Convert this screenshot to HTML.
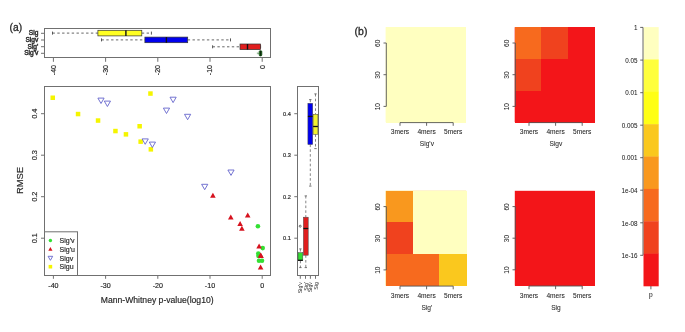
<!DOCTYPE html>
<html><head><meta charset="utf-8"><style>
html,body{margin:0;padding:0;background:#fff;}
body{width:685px;height:332px;overflow:hidden;}
svg{display:block;font-family:"Liberation Sans", sans-serif;will-change:transform;filter:blur(0.35px);}
text{stroke:#333;stroke-width:0.18px;}
text.b{stroke:#444;stroke-width:0.06px;}
</style></head><body>
<svg width="685" height="332" viewBox="0 0 685 332">
<rect width="685" height="332" fill="#fff"/>
<text transform="translate(9.6,30.5) scale(0.89,1)" font-size="11.5" fill="#222" style="stroke-width:0.35px">(a)</text>
<rect x="44.5" y="28.5" width="226.0" height="29.0" fill="none" stroke="#707070" stroke-width="1"/>
<line x1="41" y1="33.3" x2="44.5" y2="33.3" stroke="#707070" stroke-width="1"/>
<text style="stroke-width:0.45px" x="38.3" y="35.199999999999996" font-size="6.6" fill="#222" text-anchor="end">Sig</text>
<line x1="41" y1="40.0" x2="44.5" y2="40.0" stroke="#707070" stroke-width="1"/>
<text style="stroke-width:0.45px" x="38.3" y="41.9" font-size="6.6" fill="#222" text-anchor="end">Sigv</text>
<line x1="41" y1="46.7" x2="44.5" y2="46.7" stroke="#707070" stroke-width="1"/>
<text style="stroke-width:0.45px" x="38.3" y="48.6" font-size="6.6" fill="#222" text-anchor="end">Sig'</text>
<line x1="41" y1="53.3" x2="44.5" y2="53.3" stroke="#707070" stroke-width="1"/>
<text style="stroke-width:0.45px" x="38.3" y="55.199999999999996" font-size="6.6" fill="#222" text-anchor="end">Sig'v</text>
<line x1="53.4" y1="57.5" x2="53.4" y2="61.8" stroke="#707070" stroke-width="1"/>
<text transform="translate(55.8,65) rotate(-90)" font-size="7" fill="#222" text-anchor="end">-40</text>
<line x1="105.6" y1="57.5" x2="105.6" y2="61.8" stroke="#707070" stroke-width="1"/>
<text transform="translate(108.0,65) rotate(-90)" font-size="7" fill="#222" text-anchor="end">-30</text>
<line x1="157.8" y1="57.5" x2="157.8" y2="61.8" stroke="#707070" stroke-width="1"/>
<text transform="translate(160.2,65) rotate(-90)" font-size="7" fill="#222" text-anchor="end">-20</text>
<line x1="210.0" y1="57.5" x2="210.0" y2="61.8" stroke="#707070" stroke-width="1"/>
<text transform="translate(212.4,65) rotate(-90)" font-size="7" fill="#222" text-anchor="end">-10</text>
<line x1="262.2" y1="57.5" x2="262.2" y2="61.8" stroke="#707070" stroke-width="1"/>
<text transform="translate(264.6,65) rotate(-90)" font-size="7" fill="#222" text-anchor="end">0</text>
<line x1="52.5" y1="33.1" x2="97.9" y2="33.1" stroke="#666" stroke-width="1" stroke-dasharray="2.4,2.4"/>
<line x1="141.8" y1="33.1" x2="151.4" y2="33.1" stroke="#666" stroke-width="1" stroke-dasharray="2.4,2.4"/>
<line x1="52.5" y1="31.6" x2="52.5" y2="34.6" stroke="#555" stroke-width="1"/>
<line x1="151.4" y1="31.6" x2="151.4" y2="34.6" stroke="#555" stroke-width="1"/>
<rect x="97.9" y="30.3" width="43.900000000000006" height="5.6" fill="#FFFF22" stroke="#333" stroke-width="0.7"/>
<line x1="125.9" y1="30.3" x2="125.9" y2="35.9" stroke="#111" stroke-width="1.4"/>
<line x1="101.5" y1="39.9" x2="144.9" y2="39.9" stroke="#666" stroke-width="1" stroke-dasharray="2.4,2.4"/>
<line x1="187.7" y1="39.9" x2="230.5" y2="39.9" stroke="#666" stroke-width="1" stroke-dasharray="2.4,2.4"/>
<line x1="101.5" y1="38.4" x2="101.5" y2="41.4" stroke="#555" stroke-width="1"/>
<line x1="230.5" y1="38.4" x2="230.5" y2="41.4" stroke="#555" stroke-width="1"/>
<rect x="144.9" y="37.1" width="42.79999999999998" height="5.6" fill="#0000EE" stroke="#333" stroke-width="0.7"/>
<line x1="166.4" y1="37.1" x2="166.4" y2="42.699999999999996" stroke="#111" stroke-width="1.4"/>
<line x1="212.6" y1="46.8" x2="240.0" y2="46.8" stroke="#666" stroke-width="1" stroke-dasharray="2.4,2.4"/>
<line x1="260.6" y1="46.8" x2="260.6" y2="46.8" stroke="#666" stroke-width="1" stroke-dasharray="2.4,2.4"/>
<line x1="212.6" y1="45.3" x2="212.6" y2="48.3" stroke="#555" stroke-width="1"/>
<line x1="260.6" y1="45.3" x2="260.6" y2="48.3" stroke="#555" stroke-width="1"/>
<rect x="240.0" y="44.0" width="20.600000000000023" height="5.6" fill="#E01E1E" stroke="#333" stroke-width="0.7"/>
<line x1="247.5" y1="44.0" x2="247.5" y2="49.599999999999994" stroke="#111" stroke-width="1.4"/>
<line x1="257.2" y1="53.3" x2="259.4" y2="53.3" stroke="#6a9a6a" stroke-width="0.8"/>
<line x1="257.3" y1="52.3" x2="257.3" y2="54.3" stroke="#8aba8a" stroke-width="0.6"/>
<rect x="259.2" y="50.7" width="2.6" height="5.2" rx="1" fill="#2a9a2a" stroke="#0b3a0b" stroke-width="0.8"/>
<line x1="260.7" y1="50.9" x2="260.7" y2="55.7" stroke="#061806" stroke-width="1.1"/>
<rect x="44.5" y="86.5" width="226.0" height="189.0" fill="none" stroke="#707070" stroke-width="1"/>
<line x1="53.4" y1="275.5" x2="53.4" y2="278.8" stroke="#707070" stroke-width="1"/>
<text x="53.4" y="288.2" font-size="7.1" fill="#222" text-anchor="middle">-40</text>
<line x1="105.6" y1="275.5" x2="105.6" y2="278.8" stroke="#707070" stroke-width="1"/>
<text x="105.6" y="288.2" font-size="7.1" fill="#222" text-anchor="middle">-30</text>
<line x1="157.8" y1="275.5" x2="157.8" y2="278.8" stroke="#707070" stroke-width="1"/>
<text x="157.8" y="288.2" font-size="7.1" fill="#222" text-anchor="middle">-20</text>
<line x1="210.0" y1="275.5" x2="210.0" y2="278.8" stroke="#707070" stroke-width="1"/>
<text x="210.0" y="288.2" font-size="7.1" fill="#222" text-anchor="middle">-10</text>
<line x1="262.2" y1="275.5" x2="262.2" y2="278.8" stroke="#707070" stroke-width="1"/>
<text x="262.2" y="288.2" font-size="7.1" fill="#222" text-anchor="middle">0</text>
<line x1="41" y1="238.2" x2="44.5" y2="238.2" stroke="#707070" stroke-width="1"/>
<text transform="translate(36.6,238.2) rotate(-90)" font-size="7.4" fill="#222" text-anchor="middle">0.1</text>
<line x1="41" y1="196.7" x2="44.5" y2="196.7" stroke="#707070" stroke-width="1"/>
<text transform="translate(36.6,196.7) rotate(-90)" font-size="7.4" fill="#222" text-anchor="middle">0.2</text>
<line x1="41" y1="155.2" x2="44.5" y2="155.2" stroke="#707070" stroke-width="1"/>
<text transform="translate(36.6,155.2) rotate(-90)" font-size="7.4" fill="#222" text-anchor="middle">0.3</text>
<line x1="41" y1="113.7" x2="44.5" y2="113.7" stroke="#707070" stroke-width="1"/>
<text transform="translate(36.6,113.7) rotate(-90)" font-size="7.4" fill="#222" text-anchor="middle">0.4</text>
<text x="157.2" y="302.6" font-size="8.6" fill="#222" text-anchor="middle">Mann-Whitney p-value(log10)</text>
<text transform="translate(23,180.5) rotate(-90)" font-size="9.4" fill="#222" text-anchor="middle">RMSE</text>
<rect x="50.5" y="95.5" width="4.5" height="4.5" fill="#F5F500"/>
<rect x="75.8" y="111.8" width="4.5" height="4.5" fill="#F5F500"/>
<rect x="95.8" y="118.3" width="4.5" height="4.5" fill="#F5F500"/>
<rect x="113.2" y="128.8" width="4.5" height="4.5" fill="#F5F500"/>
<rect x="123.7" y="132.1" width="4.5" height="4.5" fill="#F5F500"/>
<rect x="137.4" y="124.0" width="4.5" height="4.5" fill="#F5F500"/>
<rect x="138.4" y="139.4" width="4.5" height="4.5" fill="#F5F500"/>
<rect x="148.6" y="147.1" width="4.5" height="4.5" fill="#F5F500"/>
<rect x="148.2" y="91.3" width="4.5" height="4.5" fill="#F5F500"/>
<path d="M97.90,98.10 L104.10,98.10 L101.00,103.50 Z" fill="none" stroke="#6464CC" stroke-width="0.9"/>
<path d="M104.30,101.10 L110.50,101.10 L107.40,106.50 Z" fill="none" stroke="#6464CC" stroke-width="0.9"/>
<path d="M142.10,138.90 L148.30,138.90 L145.20,144.30 Z" fill="none" stroke="#6464CC" stroke-width="0.9"/>
<path d="M149.30,142.10 L155.50,142.10 L152.40,147.50 Z" fill="none" stroke="#6464CC" stroke-width="0.9"/>
<path d="M170.00,97.20 L176.20,97.20 L173.10,102.60 Z" fill="none" stroke="#6464CC" stroke-width="0.9"/>
<path d="M163.40,108.10 L169.60,108.10 L166.50,113.50 Z" fill="none" stroke="#6464CC" stroke-width="0.9"/>
<path d="M184.50,114.30 L190.70,114.30 L187.60,119.70 Z" fill="none" stroke="#6464CC" stroke-width="0.9"/>
<path d="M227.90,170.00 L234.10,170.00 L231.00,175.40 Z" fill="none" stroke="#6464CC" stroke-width="0.9"/>
<path d="M201.60,184.30 L207.80,184.30 L204.70,189.70 Z" fill="none" stroke="#6464CC" stroke-width="0.9"/>
<circle cx="257.90" cy="226.30" r="2.3" fill="#33E033"/>
<circle cx="262.70" cy="248.10" r="2.3" fill="#33E033"/>
<circle cx="258.30" cy="253.60" r="2.3" fill="#33E033"/>
<circle cx="258.50" cy="256.00" r="2.3" fill="#33E033"/>
<circle cx="259.00" cy="260.80" r="2.3" fill="#33E033"/>
<circle cx="262.00" cy="260.80" r="2.3" fill="#33E033"/>
<path d="M212.90,192.70 L215.70,197.70 L210.10,197.70 Z" fill="#D6121E"/>
<path d="M230.80,214.50 L233.60,219.50 L228.00,219.50 Z" fill="#D6121E"/>
<path d="M247.70,212.40 L250.50,217.40 L244.90,217.40 Z" fill="#D6121E"/>
<path d="M240.10,220.90 L242.90,225.90 L237.30,225.90 Z" fill="#D6121E"/>
<path d="M241.90,225.70 L244.70,230.70 L239.10,230.70 Z" fill="#D6121E"/>
<path d="M259.10,243.60 L261.90,248.60 L256.30,248.60 Z" fill="#D6121E"/>
<path d="M260.60,252.50 L263.40,257.50 L257.80,257.50 Z" fill="#D6121E"/>
<path d="M261.00,253.00 L263.80,258.00 L258.20,258.00 Z" fill="#D6121E"/>
<path d="M260.60,264.40 L263.40,269.40 L257.80,269.40 Z" fill="#D6121E"/>
<rect x="44.5" y="231.8" width="33" height="43.69999999999999" fill="#fff" stroke="#707070" stroke-width="1"/>
<circle cx="50.40" cy="240.50" r="1.7" fill="#33E033"/>
<path d="M50.40,246.90 L52.50,250.70 L48.30,250.70 Z" fill="#D6121E"/>
<path d="M48.10,256.30 L52.70,256.30 L50.40,260.30 Z" fill="none" stroke="#6464CC" stroke-width="0.9"/>
<rect x="48.6" y="264.9" width="3.6" height="3.6" fill="#F5F500"/>
<text x="59.6" y="243.0" font-size="7.0" fill="#222">Sig'v</text>
<text x="59.6" y="251.6" font-size="7.0" fill="#222">Sig'u</text>
<text x="59.6" y="260.5" font-size="7.0" fill="#222">Sigv</text>
<text x="59.6" y="269.2" font-size="7.0" fill="#222">Sigu</text>
<rect x="297.5" y="86.5" width="21.0" height="189.0" fill="none" stroke="#707070" stroke-width="1"/>
<line x1="294.3" y1="238.2" x2="297.5" y2="238.2" stroke="#707070" stroke-width="1"/>
<text x="290.8" y="240.1" font-size="5.6" fill="#222" text-anchor="end">0.1</text>
<line x1="294.3" y1="196.7" x2="297.5" y2="196.7" stroke="#707070" stroke-width="1"/>
<text x="290.8" y="198.6" font-size="5.6" fill="#222" text-anchor="end">0.2</text>
<line x1="294.3" y1="155.2" x2="297.5" y2="155.2" stroke="#707070" stroke-width="1"/>
<text x="290.8" y="157.1" font-size="5.6" fill="#222" text-anchor="end">0.3</text>
<line x1="294.3" y1="113.7" x2="297.5" y2="113.7" stroke="#707070" stroke-width="1"/>
<text x="290.8" y="115.6" font-size="5.6" fill="#222" text-anchor="end">0.4</text>
<line x1="300.3" y1="275.5" x2="300.3" y2="278.8" stroke="#707070" stroke-width="1"/>
<line x1="305.5" y1="275.5" x2="305.5" y2="278.8" stroke="#707070" stroke-width="1"/>
<line x1="310.4" y1="275.5" x2="310.4" y2="278.8" stroke="#707070" stroke-width="1"/>
<line x1="315.5" y1="275.5" x2="315.5" y2="278.8" stroke="#707070" stroke-width="1"/>
<text style="stroke:none" transform="translate(302.3,282.0) rotate(-90)" font-size="5.3" fill="#222" text-anchor="end">Sig'v</text>
<text style="stroke:none" transform="translate(307.5,282.0) rotate(-90)" font-size="5.3" fill="#222" text-anchor="end">Sig'</text>
<text style="stroke:none" transform="translate(312.4,282.0) rotate(-90)" font-size="5.3" fill="#222" text-anchor="end">Sigv</text>
<text style="stroke:none" transform="translate(317.5,282.0) rotate(-90)" font-size="5.3" fill="#222" text-anchor="end">Sig</text>
<line x1="310.3" y1="99.6" x2="310.3" y2="103.3" stroke="#666" stroke-width="0.8" stroke-dasharray="2.6,2.2"/>
<line x1="310.3" y1="144.5" x2="310.3" y2="186.1" stroke="#666" stroke-width="0.8" stroke-dasharray="2.6,2.2"/>
<line x1="309.1" y1="99.6" x2="311.5" y2="99.6" stroke="#555" stroke-width="0.8"/>
<line x1="309.1" y1="186.1" x2="311.5" y2="186.1" stroke="#555" stroke-width="0.8"/>
<rect x="307.90000000000003" y="103.3" width="4.8" height="41.2" fill="#0000EE" stroke="#444" stroke-width="0.5"/>
<line x1="307.90000000000003" y1="116.4" x2="312.7" y2="116.4" stroke="#111" stroke-width="1.3"/>
<line x1="315.5" y1="93.9" x2="315.5" y2="114.3" stroke="#666" stroke-width="0.8" stroke-dasharray="2.6,2.2"/>
<line x1="315.5" y1="134.3" x2="315.5" y2="148.6" stroke="#666" stroke-width="0.8" stroke-dasharray="2.6,2.2"/>
<line x1="314.3" y1="93.9" x2="316.7" y2="93.9" stroke="#555" stroke-width="0.8"/>
<line x1="314.3" y1="148.6" x2="316.7" y2="148.6" stroke="#555" stroke-width="0.8"/>
<rect x="313.1" y="114.3" width="4.8" height="20.000000000000014" fill="#F2F230" stroke="#444" stroke-width="0.5"/>
<line x1="313.1" y1="126.5" x2="317.9" y2="126.5" stroke="#111" stroke-width="1.3"/>
<line x1="305.8" y1="195.9" x2="305.8" y2="217.2" stroke="#666" stroke-width="0.8" stroke-dasharray="2.6,2.2"/>
<line x1="305.8" y1="255.2" x2="305.8" y2="267.6" stroke="#666" stroke-width="0.8" stroke-dasharray="2.6,2.2"/>
<line x1="304.6" y1="195.9" x2="307.0" y2="195.9" stroke="#555" stroke-width="0.8"/>
<line x1="304.6" y1="267.6" x2="307.0" y2="267.6" stroke="#555" stroke-width="0.8"/>
<rect x="303.40000000000003" y="217.2" width="4.8" height="38.0" fill="#E01E1E" stroke="#444" stroke-width="0.5"/>
<line x1="303.40000000000003" y1="228.5" x2="308.2" y2="228.5" stroke="#111" stroke-width="1.3"/>
<line x1="300.4" y1="248.9" x2="300.4" y2="252.7" stroke="#666" stroke-width="0.8" stroke-dasharray="2.6,2.2"/>
<line x1="300.4" y1="260.7" x2="300.4" y2="267.6" stroke="#666" stroke-width="0.8" stroke-dasharray="2.6,2.2"/>
<line x1="299.2" y1="248.9" x2="301.59999999999997" y2="248.9" stroke="#555" stroke-width="0.8"/>
<line x1="299.2" y1="267.6" x2="301.59999999999997" y2="267.6" stroke="#555" stroke-width="0.8"/>
<rect x="298.0" y="252.7" width="4.8" height="8.0" fill="#33DD33" stroke="#444" stroke-width="0.5"/>
<line x1="298.0" y1="260.3" x2="302.79999999999995" y2="260.3" stroke="#111" stroke-width="1.3"/>
<circle cx="300.2" cy="226.2" r="1.0" fill="none" stroke="#333" stroke-width="0.7"/>
<text transform="translate(354.6,34.8) scale(0.91,1)" font-size="11.5" fill="#222" style="stroke-width:0.35px">(b)</text>
<rect x="385.60" y="27.20" width="80.40" height="95.00" fill="#FFFFC0"/>
<rect x="385.60" y="27.20" width="27.10" height="31.97" fill="#FFFFC0" shape-rendering="crispEdges"/>
<rect x="412.40" y="27.20" width="27.10" height="31.97" fill="#FFFFC0" shape-rendering="crispEdges"/>
<rect x="439.20" y="27.20" width="27.10" height="31.97" fill="#FFFFC0" shape-rendering="crispEdges"/>
<rect x="385.60" y="58.87" width="27.10" height="31.97" fill="#FFFFC0" shape-rendering="crispEdges"/>
<rect x="412.40" y="58.87" width="27.10" height="31.97" fill="#FFFFC0" shape-rendering="crispEdges"/>
<rect x="439.20" y="58.87" width="27.10" height="31.97" fill="#FFFFC0" shape-rendering="crispEdges"/>
<rect x="385.60" y="90.53" width="27.10" height="31.97" fill="#FFFFC0" shape-rendering="crispEdges"/>
<rect x="412.40" y="90.53" width="27.10" height="31.97" fill="#FFFFC0" shape-rendering="crispEdges"/>
<rect x="439.20" y="90.53" width="27.10" height="31.97" fill="#FFFFC0" shape-rendering="crispEdges"/>
<line x1="386.3" y1="43.0" x2="386.3" y2="106.4" stroke="#555" stroke-width="0.9"/>
<line x1="383.5" y1="43.0" x2="386.3" y2="43.0" stroke="#555" stroke-width="0.9"/>
<text class="b" transform="translate(379.8,43.3) rotate(-90)" font-size="6.6" fill="#222" text-anchor="middle">60</text>
<line x1="383.5" y1="74.7" x2="386.3" y2="74.7" stroke="#555" stroke-width="0.9"/>
<text class="b" transform="translate(379.8,75.0) rotate(-90)" font-size="6.6" fill="#222" text-anchor="middle">30</text>
<line x1="383.5" y1="106.4" x2="386.3" y2="106.4" stroke="#555" stroke-width="0.9"/>
<text class="b" transform="translate(379.8,106.7) rotate(-90)" font-size="6.6" fill="#222" text-anchor="middle">10</text>
<line x1="400.0" y1="122.6" x2="453.2" y2="122.6" stroke="#555" stroke-width="0.9"/>
<line x1="400.0" y1="122.6" x2="400.0" y2="125.8" stroke="#555" stroke-width="0.9"/>
<text class="b" x="400.0" y="133.8" font-size="6.6" fill="#222" text-anchor="middle">3mers</text>
<line x1="426.6" y1="122.6" x2="426.6" y2="125.8" stroke="#555" stroke-width="0.9"/>
<text class="b" x="426.6" y="133.8" font-size="6.6" fill="#222" text-anchor="middle">4mers</text>
<line x1="453.2" y1="122.6" x2="453.2" y2="125.8" stroke="#555" stroke-width="0.9"/>
<text class="b" x="453.2" y="133.8" font-size="6.6" fill="#222" text-anchor="middle">5mers</text>
<text class="b" x="426.9" y="146.4" font-size="6.6" fill="#222" text-anchor="middle">Sig'v</text>
<rect x="514.70" y="27.20" width="79.90" height="95.00" fill="#F31519"/>
<rect x="514.70" y="27.20" width="26.93" height="31.97" fill="#F76A1E" shape-rendering="crispEdges"/>
<rect x="541.33" y="27.20" width="26.93" height="31.97" fill="#F0421E" shape-rendering="crispEdges"/>
<rect x="567.97" y="27.20" width="26.93" height="31.97" fill="#F31519" shape-rendering="crispEdges"/>
<rect x="514.70" y="58.87" width="26.93" height="31.97" fill="#F0421E" shape-rendering="crispEdges"/>
<rect x="541.33" y="58.87" width="26.93" height="31.97" fill="#F31519" shape-rendering="crispEdges"/>
<rect x="567.97" y="58.87" width="26.93" height="31.97" fill="#F31519" shape-rendering="crispEdges"/>
<rect x="514.70" y="90.53" width="26.93" height="31.97" fill="#F31519" shape-rendering="crispEdges"/>
<rect x="541.33" y="90.53" width="26.93" height="31.97" fill="#F31519" shape-rendering="crispEdges"/>
<rect x="567.97" y="90.53" width="26.93" height="31.97" fill="#F31519" shape-rendering="crispEdges"/>
<line x1="515.3" y1="43.0" x2="515.3" y2="106.4" stroke="#555" stroke-width="0.9"/>
<line x1="512.5" y1="43.0" x2="515.3" y2="43.0" stroke="#555" stroke-width="0.9"/>
<text class="b" transform="translate(508.8,43.3) rotate(-90)" font-size="6.6" fill="#222" text-anchor="middle">60</text>
<line x1="512.5" y1="74.7" x2="515.3" y2="74.7" stroke="#555" stroke-width="0.9"/>
<text class="b" transform="translate(508.8,75.0) rotate(-90)" font-size="6.6" fill="#222" text-anchor="middle">30</text>
<line x1="512.5" y1="106.4" x2="515.3" y2="106.4" stroke="#555" stroke-width="0.9"/>
<text class="b" transform="translate(508.8,106.7) rotate(-90)" font-size="6.6" fill="#222" text-anchor="middle">10</text>
<line x1="529.0" y1="122.6" x2="582.2" y2="122.6" stroke="#555" stroke-width="0.9"/>
<line x1="529.0" y1="122.6" x2="529.0" y2="125.8" stroke="#555" stroke-width="0.9"/>
<text class="b" x="529.0" y="133.8" font-size="6.6" fill="#222" text-anchor="middle">3mers</text>
<line x1="555.6" y1="122.6" x2="555.6" y2="125.8" stroke="#555" stroke-width="0.9"/>
<text class="b" x="555.6" y="133.8" font-size="6.6" fill="#222" text-anchor="middle">4mers</text>
<line x1="582.2" y1="122.6" x2="582.2" y2="125.8" stroke="#555" stroke-width="0.9"/>
<text class="b" x="582.2" y="133.8" font-size="6.6" fill="#222" text-anchor="middle">5mers</text>
<text class="b" x="555.9" y="146.4" font-size="6.6" fill="#222" text-anchor="middle">Sigv</text>
<rect x="385.70" y="190.80" width="80.50" height="94.90" fill="#FAC81E"/>
<rect x="385.70" y="190.80" width="27.13" height="31.93" fill="#F9981E" shape-rendering="crispEdges"/>
<rect x="412.53" y="190.80" width="27.13" height="31.93" fill="#FFFFC0" shape-rendering="crispEdges"/>
<rect x="439.37" y="190.80" width="27.13" height="31.93" fill="#FFFFC0" shape-rendering="crispEdges"/>
<rect x="385.70" y="222.43" width="27.13" height="31.93" fill="#F0421E" shape-rendering="crispEdges"/>
<rect x="412.53" y="222.43" width="27.13" height="31.93" fill="#FFFFC0" shape-rendering="crispEdges"/>
<rect x="439.37" y="222.43" width="27.13" height="31.93" fill="#FFFFC0" shape-rendering="crispEdges"/>
<rect x="385.70" y="254.07" width="27.13" height="31.93" fill="#F76A1E" shape-rendering="crispEdges"/>
<rect x="412.53" y="254.07" width="27.13" height="31.93" fill="#F76A1E" shape-rendering="crispEdges"/>
<rect x="439.37" y="254.07" width="27.13" height="31.93" fill="#FAC81E" shape-rendering="crispEdges"/>
<line x1="386.3" y1="206.6" x2="386.3" y2="269.9" stroke="#555" stroke-width="0.9"/>
<line x1="383.5" y1="206.6" x2="386.3" y2="206.6" stroke="#555" stroke-width="0.9"/>
<text class="b" transform="translate(379.8,206.9) rotate(-90)" font-size="6.6" fill="#222" text-anchor="middle">60</text>
<line x1="383.5" y1="238.2" x2="386.3" y2="238.2" stroke="#555" stroke-width="0.9"/>
<text class="b" transform="translate(379.8,238.6) rotate(-90)" font-size="6.6" fill="#222" text-anchor="middle">30</text>
<line x1="383.5" y1="269.9" x2="386.3" y2="269.9" stroke="#555" stroke-width="0.9"/>
<text class="b" transform="translate(379.8,270.2) rotate(-90)" font-size="6.6" fill="#222" text-anchor="middle">10</text>
<line x1="400.0" y1="286.1" x2="453.2" y2="286.1" stroke="#555" stroke-width="0.9"/>
<line x1="400.0" y1="286.1" x2="400.0" y2="289.3" stroke="#555" stroke-width="0.9"/>
<text class="b" x="400.0" y="298.0" font-size="6.6" fill="#222" text-anchor="middle">3mers</text>
<line x1="426.6" y1="286.1" x2="426.6" y2="289.3" stroke="#555" stroke-width="0.9"/>
<text class="b" x="426.6" y="298.0" font-size="6.6" fill="#222" text-anchor="middle">4mers</text>
<line x1="453.2" y1="286.1" x2="453.2" y2="289.3" stroke="#555" stroke-width="0.9"/>
<text class="b" x="453.2" y="298.0" font-size="6.6" fill="#222" text-anchor="middle">5mers</text>
<text class="b" x="426.9" y="309.9" font-size="6.6" fill="#222" text-anchor="middle">Sig'</text>
<rect x="514.80" y="190.80" width="79.90" height="94.80" fill="#F31519"/>
<rect x="514.80" y="190.80" width="26.93" height="31.90" fill="#F31519" shape-rendering="crispEdges"/>
<rect x="541.43" y="190.80" width="26.93" height="31.90" fill="#F31519" shape-rendering="crispEdges"/>
<rect x="568.07" y="190.80" width="26.93" height="31.90" fill="#F31519" shape-rendering="crispEdges"/>
<rect x="514.80" y="222.40" width="26.93" height="31.90" fill="#F31519" shape-rendering="crispEdges"/>
<rect x="541.43" y="222.40" width="26.93" height="31.90" fill="#F31519" shape-rendering="crispEdges"/>
<rect x="568.07" y="222.40" width="26.93" height="31.90" fill="#F31519" shape-rendering="crispEdges"/>
<rect x="514.80" y="254.00" width="26.93" height="31.90" fill="#F31519" shape-rendering="crispEdges"/>
<rect x="541.43" y="254.00" width="26.93" height="31.90" fill="#F31519" shape-rendering="crispEdges"/>
<rect x="568.07" y="254.00" width="26.93" height="31.90" fill="#F31519" shape-rendering="crispEdges"/>
<line x1="515.3" y1="206.6" x2="515.3" y2="269.8" stroke="#555" stroke-width="0.9"/>
<line x1="512.5" y1="206.6" x2="515.3" y2="206.6" stroke="#555" stroke-width="0.9"/>
<text class="b" transform="translate(508.8,206.9) rotate(-90)" font-size="6.6" fill="#222" text-anchor="middle">60</text>
<line x1="512.5" y1="238.2" x2="515.3" y2="238.2" stroke="#555" stroke-width="0.9"/>
<text class="b" transform="translate(508.8,238.5) rotate(-90)" font-size="6.6" fill="#222" text-anchor="middle">30</text>
<line x1="512.5" y1="269.8" x2="515.3" y2="269.8" stroke="#555" stroke-width="0.9"/>
<text class="b" transform="translate(508.8,270.1) rotate(-90)" font-size="6.6" fill="#222" text-anchor="middle">10</text>
<line x1="529.0" y1="286.0" x2="582.2" y2="286.0" stroke="#555" stroke-width="0.9"/>
<line x1="529.0" y1="286.0" x2="529.0" y2="289.2" stroke="#555" stroke-width="0.9"/>
<text class="b" x="529.0" y="297.9" font-size="6.6" fill="#222" text-anchor="middle">3mers</text>
<line x1="555.6" y1="286.0" x2="555.6" y2="289.2" stroke="#555" stroke-width="0.9"/>
<text class="b" x="555.6" y="297.9" font-size="6.6" fill="#222" text-anchor="middle">4mers</text>
<line x1="582.2" y1="286.0" x2="582.2" y2="289.2" stroke="#555" stroke-width="0.9"/>
<text class="b" x="582.2" y="297.9" font-size="6.6" fill="#222" text-anchor="middle">5mers</text>
<text class="b" x="555.9" y="309.8" font-size="6.6" fill="#222" text-anchor="middle">Sig</text>
<rect x="643.5" y="27.10" width="15.200000000000045" height="32.66" fill="#FFFFC0"/>
<rect x="643.5" y="59.46" width="15.200000000000045" height="32.66" fill="#FFFF3C"/>
<rect x="643.5" y="91.82" width="15.200000000000045" height="32.66" fill="#FFFF14"/>
<rect x="643.5" y="124.19" width="15.200000000000045" height="32.66" fill="#FAC81E"/>
<rect x="643.5" y="156.55" width="15.200000000000045" height="32.66" fill="#F9981E"/>
<rect x="643.5" y="188.91" width="15.200000000000045" height="32.66" fill="#F76A1E"/>
<rect x="643.5" y="221.27" width="15.200000000000045" height="32.66" fill="#F0421E"/>
<rect x="643.5" y="253.64" width="15.200000000000045" height="32.66" fill="#F31519"/>
<line x1="643.0" y1="27.400000000000002" x2="643.0" y2="255.3" stroke="#555" stroke-width="0.9"/>
<line x1="640.2" y1="27.4" x2="643.0" y2="27.4" stroke="#555" stroke-width="0.9"/>
<text class="b" x="637.6" y="30.1" font-size="6.3" fill="#222" text-anchor="end">1</text>
<line x1="640.2" y1="60.1" x2="643.0" y2="60.1" stroke="#555" stroke-width="0.9"/>
<text class="b" x="637.6" y="62.8" font-size="6.3" fill="#222" text-anchor="end">0.05</text>
<line x1="640.2" y1="92.7" x2="643.0" y2="92.7" stroke="#555" stroke-width="0.9"/>
<text class="b" x="637.6" y="95.4" font-size="6.3" fill="#222" text-anchor="end">0.01</text>
<line x1="640.2" y1="125.2" x2="643.0" y2="125.2" stroke="#555" stroke-width="0.9"/>
<text class="b" x="637.6" y="127.9" font-size="6.3" fill="#222" text-anchor="end">0.005</text>
<line x1="640.2" y1="157.7" x2="643.0" y2="157.7" stroke="#555" stroke-width="0.9"/>
<text class="b" x="637.6" y="160.4" font-size="6.3" fill="#222" text-anchor="end">0.001</text>
<line x1="640.2" y1="190.2" x2="643.0" y2="190.2" stroke="#555" stroke-width="0.9"/>
<text class="b" x="637.6" y="192.9" font-size="6.3" fill="#222" text-anchor="end">1e-04</text>
<line x1="640.2" y1="222.8" x2="643.0" y2="222.8" stroke="#555" stroke-width="0.9"/>
<text class="b" x="637.6" y="225.5" font-size="6.3" fill="#222" text-anchor="end">1e-08</text>
<line x1="640.2" y1="255.3" x2="643.0" y2="255.3" stroke="#555" stroke-width="0.9"/>
<text class="b" x="637.6" y="258.0" font-size="6.3" fill="#222" text-anchor="end">1e-16</text>
<line x1="650.9" y1="286.0" x2="650.9" y2="289.3" stroke="#555" stroke-width="0.9"/>
<text class="b" x="650.9" y="297.3" font-size="6.6" fill="#222" text-anchor="middle">p</text>
</svg>
</body></html>
